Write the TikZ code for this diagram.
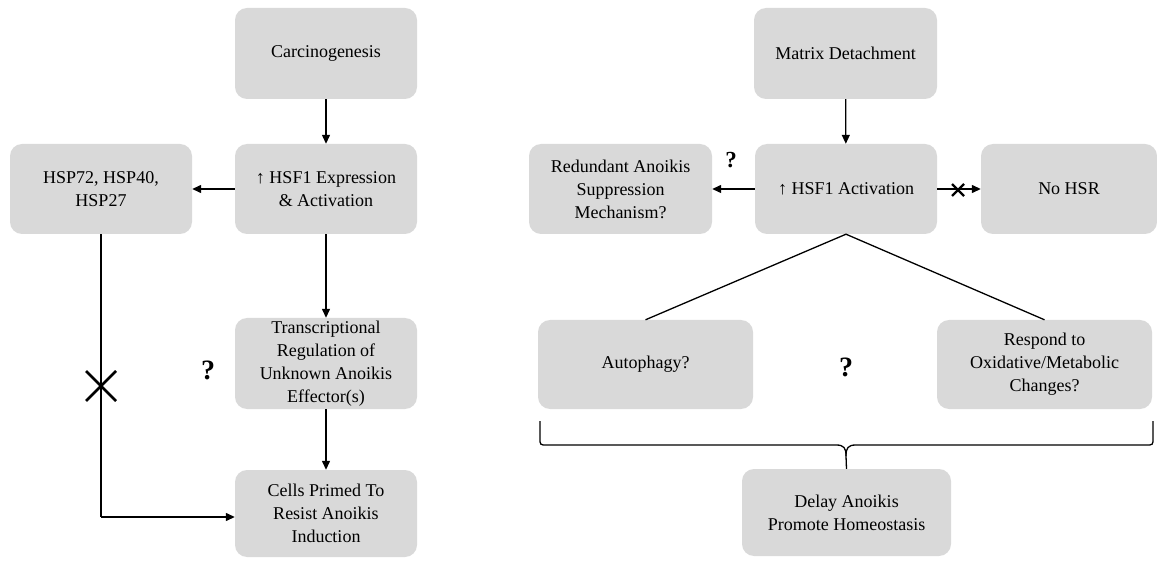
\documentclass[tikz,border=0pt]{standalone}
\usepackage{fontspec}
\setmainfont{LiberationSerif}[Extension=.ttf, UprightFont=*-Regular, BoldFont=*-Bold, ItalicFont=*-Italic, BoldItalicFont=*-BoldItalic]
\usetikzlibrary{arrows.meta}
\definecolor{boxgray}{HTML}{D9D9D9}
\tikzset{
  box/.style={fill=boxgray, rounded corners=12pt, inner sep=0pt, align=center,
    font=\fontsize{18}{23}\selectfont},
  conn/.style={line width=1.3pt, -{Triangle[length=9pt,width=8pt]}},
  plain/.style={line width=1.3pt},
  qmark/.style={font=\fontsize{28}{30}\selectfont\bfseries, inner sep=0pt},
  qsmall/.style={font=\fontsize{23}{26}\selectfont\bfseries, inner sep=0pt},
}
\begin{document}
\begin{tikzpicture}[x=1pt,y=-1pt]
\useasboundingbox (0,0) rectangle (1157,561);
% left column
\node[box, minimum width=182pt, minimum height=91pt] (carc) at (326,53.5) {Carcinogenesis};
\node[box, minimum width=182pt, minimum height=90pt] (hsfE) at (326,189) {↑ HSF1 Expression\\\& Activation};
\node[box, minimum width=182pt, minimum height=90pt] (hsp) at (101,189) {HSP72, HSP40,\\HSP27};
\node[box, minimum width=182pt, minimum height=91pt] (trans) at (326,363.5) {Transcriptional\\Regulation of\\Unknown Anoikis\\Effector(s)};
\node[box, minimum width=182pt, minimum height=87pt] (cells) at (326,513.5) {Cells Primed To\\Resist Anoikis\\Induction};
\draw[conn] (carc) -- (hsfE);
\draw[conn] (hsfE) -- (hsp);
\draw[conn] (hsfE) -- (trans);
\draw[conn] (trans) -- (cells);
\coordinate (bend) at (101,517);
\draw[plain] (hsp.south) -- (bend);
\draw[conn] (bend) -- (cells.west |- bend);
\draw[line width=2.6pt] (86,371) -- (116,401) (86,401) -- (116,371);
\node[qmark] (q1) at (208,370) {?};
% right column
\node[box, minimum width=183pt, minimum height=91pt] (matrix) at (845.5,53.5) {Matrix Detachment};
\node[box, minimum width=182pt, minimum height=90pt] (hsfA) at (846,189) {↑ HSF1 Activation};
\node[box, minimum width=183pt, minimum height=90pt] (redund) at (620.5,189) {Redundant Anoikis\\Suppression\\Mechanism?};
\node[box, minimum width=176pt, minimum height=90pt] (nohsr) at (1069,189) {No HSR};
\node[box, minimum width=215pt, minimum height=89pt] (auto) at (645.5,364.5) {Autophagy?};
\node[box, minimum width=215pt, minimum height=89pt] (resp) at (1044.5,364.5) {Respond to\\Oxidative/Metabolic\\Changes?};
\node[box, minimum width=209pt, minimum height=87pt] (delay) at (846.5,512.5) {Delay Anoikis\\Promote Homeostasis};
\draw[conn] (matrix) -- (hsfA);
\draw[conn] (hsfA) -- (redund);
\node[qsmall] (q2) at (731,160) {?};
\draw[conn] (hsfA) -- (nohsr);
\draw[line width=2.2pt] (952,184) -- (964,196) (952,196) -- (964,184);
\draw[plain] (auto.north) -- (hsfA.south) -- (resp.north);
\node[qmark] (q3) at (846,367) {?};
% brace
\coordinate (bl) at (540,421);
\coordinate (br) at (1153,421);
\draw[line width=1.3pt] (bl) -- (540,438) .. controls (540,445) .. (547,445) -- (836,445)
  .. controls (844,445) and (846,448) .. (846,456) -- (delay.north);
\draw[line width=1.3pt] (br) -- (1153,438) .. controls (1153,445) .. (1146,445) -- (856,445)
  .. controls (848,445) and (846,448) .. (846,456);
\end{tikzpicture}
\end{document}
